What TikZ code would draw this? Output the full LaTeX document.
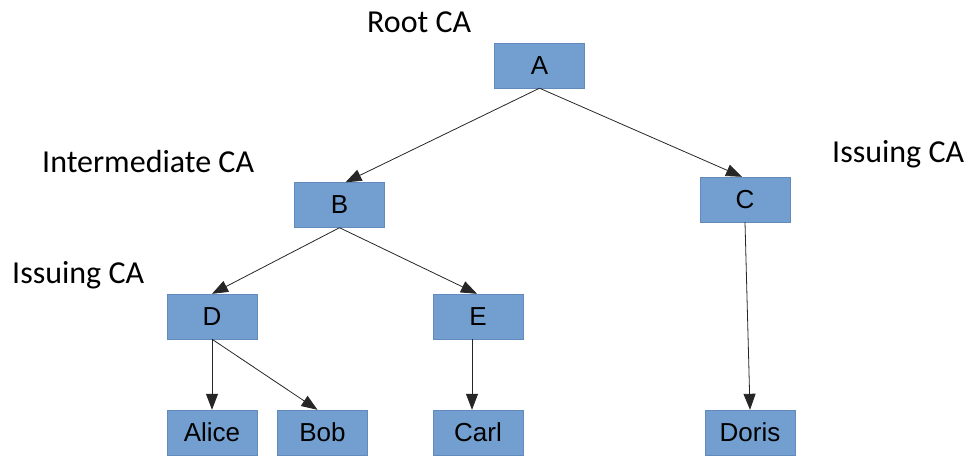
\documentclass[tikz,border=0pt]{standalone}
\usepackage{fontspec}
\setmainfont{Liberation Sans}
\newfontfamily\calfont{Carlito}
\usetikzlibrary{arrows.meta}
\definecolor{boxblue}{RGB}{114,159,207}
\definecolor{boxedge}{RGB}{98,138,186}
\tikzset{
  cert/.style={draw=boxedge,fill=boxblue,minimum width=90pt,minimum height=45pt,
    inner sep=0pt,font=\fontsize{26}{30}\selectfont},
  nyil/.style={-{Triangle[length=16pt,width=12pt]},draw=black!85,line width=0.8pt},
  cim/.style={anchor=base west,inner sep=0pt,font=\calfont\fontsize{32}{38}\selectfont},
}

\begin{document}
\begin{tikzpicture}[x=1pt,y=-1pt]
  \useasboundingbox (0,0) rectangle (971,456);
  % CA hierarchy
  \node[cert] (A) at (539.5,65.5) {A};
  \node[cert] (B) at (339.5,205) {B};
  \node[cert] (C) at (745,199.5) {C};
  \node[cert] (D) at (212,316.5) {D};
  \node[cert] (E) at (478,316.5) {E};
  \foreach \n/\x/\lab in {alice/212/Alice,bob/322.5/Bob,carl/478/Carl,doris/750/Doris}
    \node[cert] (\n) at (\x,432.5) {\lab};
  % role labels
  \node[cim] (lroot) at (367,32) {Root CA};
  \node[cim] (linter) at (42,172) {Intermediate CA};
  \node[cim] (lissd) at (12,283) {Issuing CA};
  \node[cim] (lissc) at (832,162) {Issuing CA};
  % arrows
  \draw[nyil] (A.south) -- ([xshift=6pt]B.north);
  \draw[nyil] (A.south) -- ([xshift=-3pt]C.north);
  \draw[nyil] (B.south) -- (D.north);
  \draw[nyil] (B.south) -- ([xshift=-1pt]E.north);
  \draw[nyil] (D.south) -- (alice.north);
  \draw[nyil] (D.south) -- ([xshift=-5pt]bob.north);
  \draw[nyil] ([xshift=-6pt]E.south) -- ([xshift=-6pt]carl.north);
  \draw[nyil] (C.south) -- (doris.north);
\end{tikzpicture}
\end{document}
